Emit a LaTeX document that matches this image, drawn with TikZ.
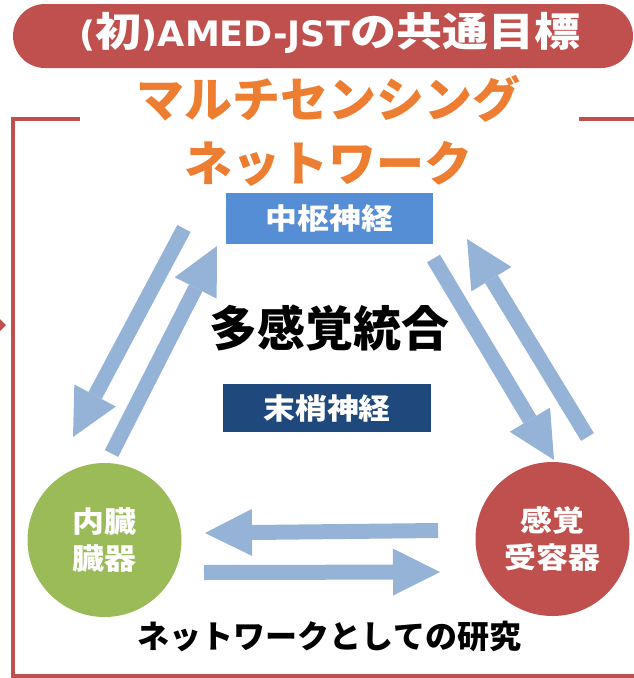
\documentclass[tikz,border=0pt]{standalone}
\usepackage{fontspec}
\setmainfont{Noto Sans CJK JP}
\newfontfamily\jpw{Noto Sans CJK JP}[FakeStretch=1.1]
\newfontfamily\jpt{Noto Sans CJK JP}[FakeStretch=1.15]
\newfontfamily\latinb{DejaVu Sans}
\usetikzlibrary{arrows.meta}
\definecolor{brickred}{HTML}{C0504D}
\definecolor{orng}{HTML}{ED7D31}
\definecolor{midblue}{HTML}{558ED5}
\definecolor{darkblue}{HTML}{1F497D}
\definecolor{leaf}{HTML}{9BBB59}
\definecolor{arrowblue}{HTML}{95B3D7}
\tikzset{
  frameline/.style={draw=brickred, line width=3.5pt},
  blockarrow/.style={draw=arrowblue, line width=15pt,
    -{Triangle[length=47pt,width=47pt,line width=0pt]}},
  plaintext/.style={inner sep=0pt, font=\bfseries},
  boxlabel/.style={inner sep=0pt, text=white, font=\jpw\bfseries\fontsize{29}{31}\selectfont},
  organ/.style={circle, inner sep=0pt, minimum size=154pt, text=white, align=center,
    font=\jpw\bfseries\fontsize{29}{37}\selectfont},
}
\begin{document}
\begin{tikzpicture}[x=1pt,y=-1pt]
\useasboundingbox (0,0) rectangle (634,678);
\begin{scope}
\clip (0,0) rectangle (634,678);
\draw[frameline] (80,119) -- (13,119) -- (13,676) -- (645,676);
\draw[frameline] (579,119) -- (645,119);
\fill[brickred] (0,319) -- (6,325) -- (0,331) -- cycle;
\fill[brickred, rounded corners=32pt] (13,4) rectangle (633,68);
\end{scope}
% title
\node[plaintext, text=white] (title) at (330,32.5)
  {{\latinb\bfseries\fontsize{35}{40}\selectfont (}{\jpt\bfseries\fontsize{40}{42}\selectfont 初}{\latinb\bfseries\fontsize{35}{40}\selectfont )AMED-JST}{\jpt\bfseries\fontsize{40}{42}\selectfont の共通目標}};
\node[plaintext, text=orng, font=\bfseries\fontsize{48}{50}\selectfont] (multi) at (328.5,99) {マルチセンシング};
\node[plaintext, text=orng, font=\bfseries\fontsize{48}{50}\selectfont] (net) at (328.5,164) {ネットワーク};
% boxes
\node[boxlabel, fill=midblue, minimum width=207pt, minimum height=51pt] (cns) at (329.5,218.5) {中枢神経};
\node[boxlabel, fill=darkblue, minimum width=208pt, minimum height=48pt] (pns) at (327,408) {末梢神経};
\node[plaintext, font=\bfseries\fontsize{48}{50}\selectfont] (integ) at (329,328.5) {多感覚統合};
% organs
\node[organ, fill=leaf] (visc) at (104.5,540) {内臓\\臓器};
\node[organ, fill=brickred] (sens) at (552.5,539) {感覚\\受容器};
\node[plaintext, font=\bfseries\fontsize{32}{34}\selectfont] (study) at (329.5,636) {ネットワークとしての研究};
% arrow endpoints
\coordinate (a1) at (184,228.5); \coordinate (a2) at (73,437);
\coordinate (b1) at (111.5,453.5); \coordinate (b2) at (217,246);
\coordinate (c1) at (433.5,258.5); \coordinate (c2) at (554,460);
\coordinate (d1) at (587.5,437); \coordinate (d2) at (467,239);
\coordinate (e1) at (438,530.5); \coordinate (e2) at (205,533);
\coordinate (f1) at (204,572.5); \coordinate (f2) at (440,572);
\draw[blockarrow] (a1) -- (a2);
\draw[blockarrow] (b1) -- (b2);
\draw[blockarrow] (c1) -- (c2);
\draw[blockarrow] (d1) -- (d2);
\draw[blockarrow] (e1) -- (e2);
\draw[blockarrow] (f1) -- (f2);
\end{tikzpicture}
\end{document}
